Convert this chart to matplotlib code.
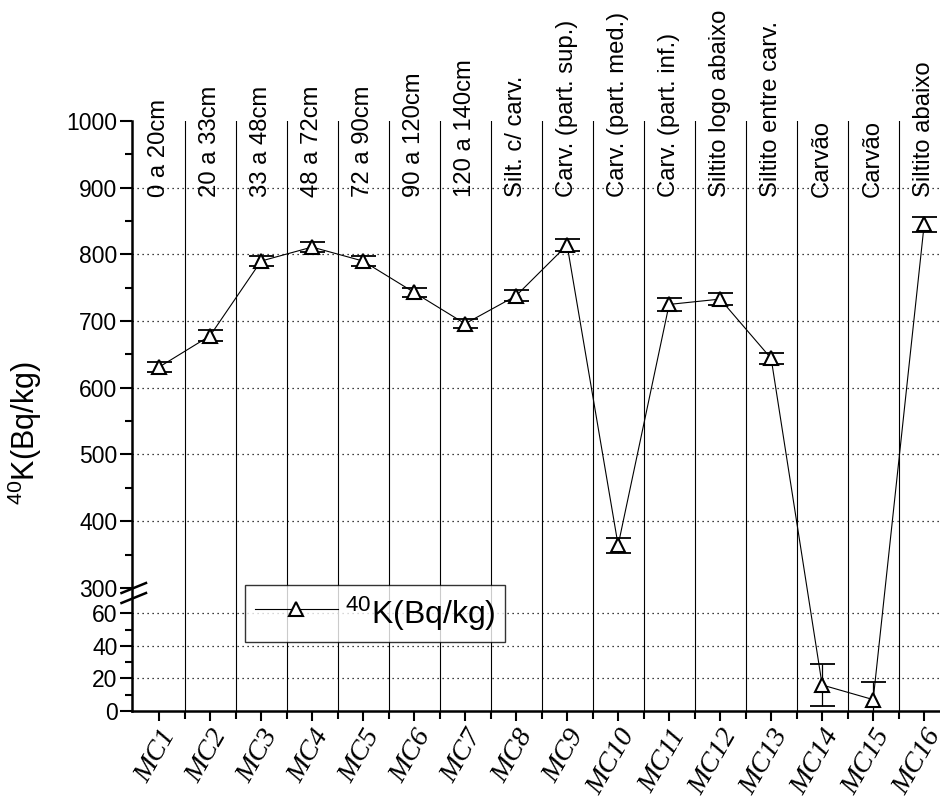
import numpy as np
import matplotlib
matplotlib.use("Agg")
import matplotlib.pyplot as plt
from matplotlib import font_manager as fm
from matplotlib.ticker import FixedLocator
from matplotlib.lines import Line2D

# make sure the regular (not narrow) Liberation Sans is used
fm.fontManager.ttflist = [f for f in fm.fontManager.ttflist
                          if 'narrow' not in f.fname.lower()]
try:
    fm.fontManager._findfont_cached.cache_clear()
except Exception:
    pass

plt.rcParams['font.family'] = ['Liberation Sans', 'DejaVu Sans']
plt.rcParams['mathtext.fontset'] = 'custom'
plt.rcParams['mathtext.rm'] = 'Liberation Sans'
plt.rcParams['mathtext.it'] = 'Liberation Sans:italic'

# ---------------- data ----------------
samples = ["MC1", "MC2", "MC3", "MC4", "MC5", "MC6", "MC7", "MC8",
           "MC9", "MC10", "MC11", "MC12", "MC13", "MC14", "MC15", "MC16"]
descriptions = ["0 a 20cm", "20 a 33cm", "33 a 48cm", "48 a 72cm", "72 a 90cm",
                "90 a 120cm", "120 a 140cm", "Silt. c/ carv.", "Carv. (part. sup.)",
                "Carv. (part. med.)", "Carv. (part. inf.)", "Siltito logo abaixo",
                "Siltito entre carv.", "Carvão", "Carvão", "Siltito abaixo"]
k40 = [631, 678, 790, 811, 790, 743, 696, 738, 814, 364, 725, 733, 644, 16, 7, 845]
k40_err = [8, 8, 8, 8, 7, 7, 7, 8, 9, 11, 10, 9, 8, 13, 11, 11]

y_major = [0, 20, 40, 60, 300, 400, 500, 600, 700, 800, 900, 1000]
y_minor = [10, 30, 50, 350, 450, 550, 650, 750, 850, 950]
y_grid = [20, 40, 60, 400, 500, 600, 700, 800, 900]

# ---------------- broken-axis scale ----------------
A = 1.625      # px per unit, low part
B = 0.6667     # px per unit, high part
L = 72.6       # top of low segment
U = 292.4      # bottom of high segment
EPS = 0.01


def fwd(v):
    v = np.asarray(v, dtype=float)
    lo = v * A
    mid = L * A + (v - L) * (EPS / (U - L))
    hi = L * A + EPS + (v - U) * B
    return np.where(v <= L, lo, np.where(v >= U, hi, mid))


def inv(y):
    y = np.asarray(y, dtype=float)
    y0 = L * A
    y1 = L * A + EPS
    lo = y / A
    mid = L + (y - y0) * (U - L) / EPS
    hi = U + (y - y1) / B
    return np.where(y <= y0, lo, np.where(y >= y1, hi, mid))


fig = plt.figure(figsize=(9.4, 7.96), dpi=100)
W, H = 940, 796
ax = fig.add_axes([132 / W, 85 / H, 808 / W, 590 / H])
ax.set_yscale('function', functions=(fwd, inv))

x = np.arange(1, len(samples) + 1)

# grid lines
for gy in y_grid:
    ax.axhline(gy, color='black', lw=0.9, ls=(0, (1, 3)), zorder=1)
for xv in np.arange(1.5, len(samples), 1.0):
    ax.axvline(xv, color='black', lw=0.8, zorder=1)

ax.errorbar(x, k40, yerr=k40_err, fmt='none', ecolor='black', elinewidth=0.9,
            capsize=9, capthick=1.3, zorder=3)
ax.plot(x, k40, color='black', lw=0.8, marker='^', ms=10.5, mfc='white',
        mec='black', mew=1.5, zorder=4, label='$^{40}$K(Bq/kg)')

ax.set_xlim(0.47, 16.31)
ax.set_ylim(0, 1000)

ax.yaxis.set_major_locator(FixedLocator(y_major))
ax.yaxis.set_minor_locator(FixedLocator(y_minor))
ax.set_yticklabels([str(v) for v in y_major])
ax.xaxis.set_major_locator(FixedLocator(x))
ax.xaxis.set_minor_locator(FixedLocator(np.arange(1.5, len(samples), 1.0)))
ax.set_xticklabels(samples, rotation=60, ha='right', rotation_mode='anchor',
                   family='Liberation Serif', style='italic', fontsize=20.5)

ax.tick_params(axis='y', which='major', direction='out', length=8.5, width=1.5,
               labelsize=16.5, pad=2)
ax.tick_params(axis='y', which='minor', direction='out', length=5, width=1.5)
ax.tick_params(axis='x', which='major', direction='out', length=7, width=1.5, pad=3)
ax.tick_params(axis='x', which='minor', direction='out', length=5.5, width=1.5)

for s in ['top', 'right']:
    ax.spines[s].set_visible(False)
for s in ['left', 'bottom']:
    ax.spines[s].set_linewidth(1.8)

# description labels
for xi, d in zip(x, descriptions):
    ax.text(xi, (711 - 197) / 590, d, rotation=90, ha='center', va='bottom',
            fontsize=17.2, transform=ax.get_xaxis_transform(), clip_on=False,
            zorder=5)

# axis break marks
for yc in (588, 598):
    x0, x1 = 121.5 / W, 146 / W
    y0, y1 = 1 - (yc + 5) / H, 1 - (yc - 5) / H
    fig.add_artist(Line2D([x0, x1], [y0, y1], color='black', lw=1.8))

fig.text(25 / W, 1 - 433 / H, '$^{40}$K(Bq/kg)', rotation=90, ha='center',
         va='center', fontsize=22)

leg = ax.legend(loc='upper left', bbox_to_anchor=((245 - 132) / 808, (711 - 585) / 590),
                borderaxespad=0, fontsize=23, handlelength=2.6, handletextpad=0.22,
                handleheight=1.42, fancybox=False, frameon=True, borderpad=0.3)
leg.get_frame().set_edgecolor('black')
leg.get_frame().set_linewidth(1.0)

fig.savefig('out.png', dpi=100)
